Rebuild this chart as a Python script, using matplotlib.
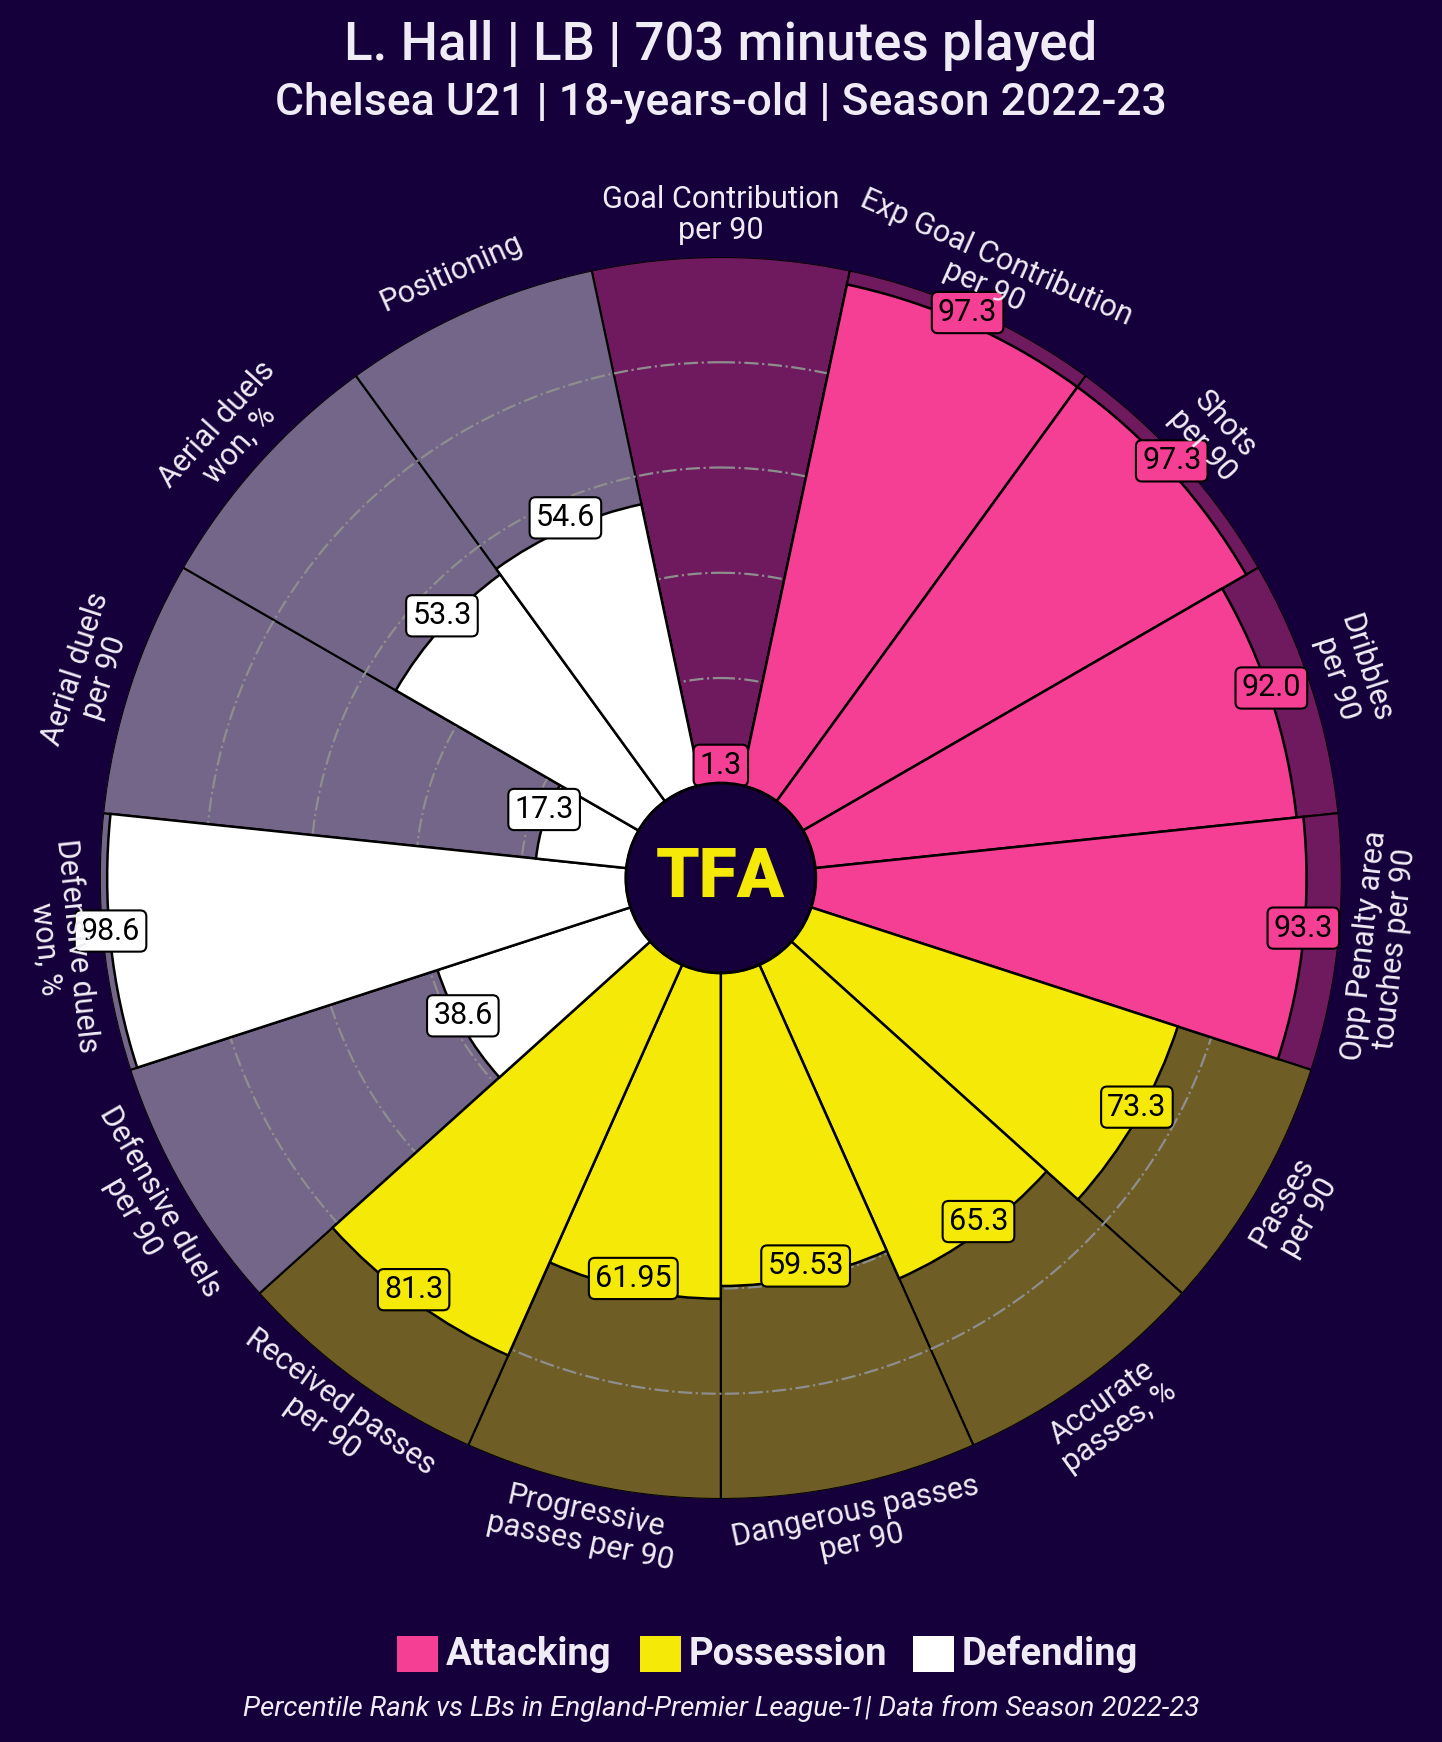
import numpy as np
import matplotlib
matplotlib.use("Agg")
import matplotlib.pyplot as plt
from matplotlib.patches import Circle, Rectangle
from matplotlib import colors as mcolors

# ---------------- data ----------------
params = [
    "Goal Contribution\nper 90",
    "Exp Goal Contribution\nper 90",
    "Shots\nper 90",
    "Dribbles\nper 90",
    "Opp Penalty area\ntouches per 90",
    "Passes\nper 90",
    "Accurate\npasses, %",
    "Dangerous passes\nper 90",
    "Progressive\npasses per 90",
    "Received passes\nper 90",
    "Defensive duels\nper 90",
    "Defensive duels\nwon, %",
    "Aerial duels\nper 90",
    "Aerial duels\nwon, %",
    "Positioning",
]
values = [1.3, 97.3, 97.3, 92.0, 93.3, 73.3, 65.3, 59.53, 61.95, 81.3,
          38.6, 98.6, 17.3, 53.3, 54.6]
groups = ["Attacking"] * 5 + ["Possession"] * 5 + ["Defending"] * 5
group_names = ["Attacking", "Possession", "Defending"]
grid_levels = [20, 40, 60, 80]

title = "L. Hall | LB | 703 minutes played"
subtitle = "Chelsea U21 | 18-years-old | Season 2022-23"
footer = "Percentile Rank vs LBs in England-Premier League-1| Data from Season 2022-23"

# ---------------- style ----------------
BG = "#16003B"
TXT = "#F0ECF5"
slice_colors = {"Attacking": "#F53F95", "Possession": "#F4E907", "Defending": "#FFFFFF"}


def blend(c, alpha=0.4, base=BG):
    a = np.array(mcolors.to_rgb(c))
    b = np.array(mcolors.to_rgb(base))
    return tuple(alpha * a + (1 - alpha) * b)


plt.rcParams["font.family"] = ["Roboto", "DejaVu Sans"]

W, H = 1442, 1742
fig = plt.figure(figsize=(W / 100, H / 100), dpi=100, facecolor=BG)

cx, cy, R = 720.8, 878.0, 621.0
ax = fig.add_axes([(cx - R) / W, (H - cy - R) / H, 2 * R / W, 2 * R / H],
                  projection="polar")
ax.set_facecolor("none")
ax.set_theta_offset(np.pi / 2)
ax.set_theta_direction(-1)
ax.set_ylim(-18, 100)
ax.grid(False)
ax.spines["polar"].set_visible(False)
ax.set_xticks([])
ax.set_yticks([])

n = len(params)
width = 2 * np.pi / n
thetas = np.arange(n) * width
cols = [slice_colors[g] for g in groups]
bgcols = [blend(slice_colors[g]) for g in groups]

# background slices
ax.bar(thetas, [100] * n, width=width, bottom=0, color=bgcols,
       edgecolor="black", linewidth=1.5, zorder=1)

# grid circles
tt = np.linspace(0, 2 * np.pi, 400)
for lv in grid_levels:
    ax.plot(tt, [lv] * len(tt), color="#8E8E8E", lw=1.6, ls="-.", zorder=2)

# value slices
ax.bar(thetas, values, width=width, bottom=0, color=cols,
       edgecolor="black", linewidth=1.8, zorder=3)

# value labels
for th, v, c in zip(thetas, values, cols):
    ax.annotate(f"{v}", xy=(th, v), xytext=(0, 8), textcoords="offset points",
                ha="center", va="center", fontsize=22, color="black",
                zorder=6, annotation_clip=False,
                bbox=dict(boxstyle="round,pad=0.2", fc=c, ec="black", lw=1.5))

# parameter labels
for i, (th, p) in enumerate(zip(thetas, params)):
    rot = -np.degrees(th)
    rot = (rot + 180) % 360 - 180
    if rot < -90:
        rot += 180
    elif rot > 90:
        rot -= 180
    ax.text(th, 108, p, ha="center", va="center", rotation=rot,
            rotation_mode="anchor", fontsize=22, color=TXT, linespacing=1.08,
            zorder=7)

# centre circle with logo
ax.add_patch(Circle((0.5, 0.5), radius=95 / (2 * R), transform=ax.transAxes,
                    facecolor=BG, edgecolor="black", lw=2, zorder=8))
ax.text(0.5, 0.5, "TFA", transform=ax.transAxes, ha="center", va="center",
        fontsize=50, fontweight="black", color="#F4E907", zorder=9)

# titles
fig.text(0.5, 1 - 45 / H, title, ha="center", va="center", fontsize=38,
         fontweight="medium", color=TXT)
fig.text(0.5, 1 - 103 / H, subtitle, ha="center", va="center", fontsize=32,
         fontweight="medium", color=TXT)

# legend
leg_sq_x = [397, 640, 913]
leg_y = 1654
for gx, g in zip(leg_sq_x, group_names):
    fig.patches.append(Rectangle((gx / W, 1 - (leg_y + 18) / H), 41 / W, 36 / H,
                                 transform=fig.transFigure, facecolor=slice_colors[g],
                                 edgecolor="none"))
    fig.text((gx + 49) / W, 1 - leg_y / H, g, ha="left", va="center",
             fontsize=27.5, fontweight="bold", color=TXT)

fig.text(0.5, 1 - 1708 / H, footer, ha="center", va="center", fontsize=20,
         style="italic", color=TXT)

fig.savefig("out.png", dpi=100, facecolor=BG)
